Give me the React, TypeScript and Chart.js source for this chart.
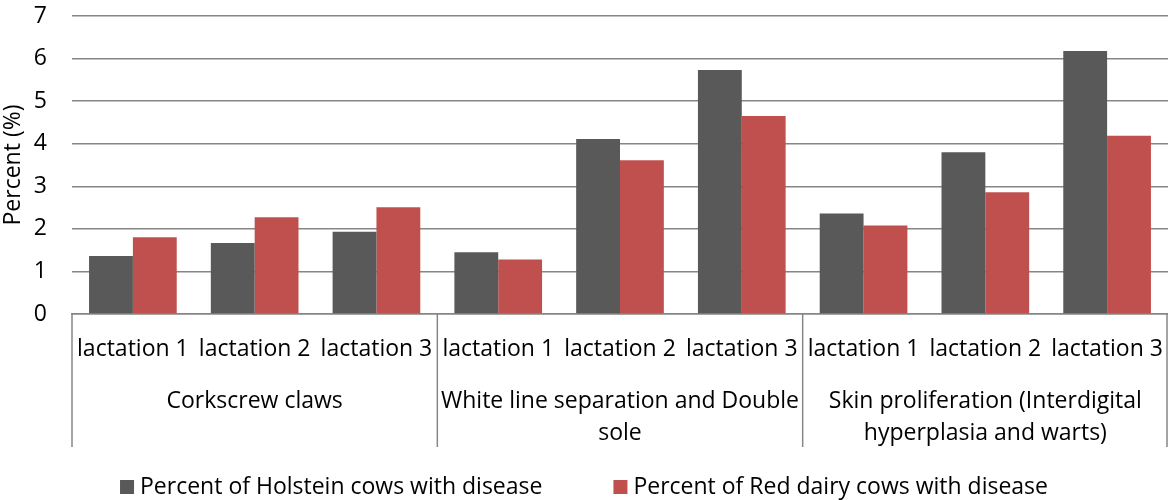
import React, { useEffect, useRef } from "react";
import { Chart, registerables } from "chart.js";

Chart.register(...registerables);

const categories = [
  "lactation 1", "lactation 2", "lactation 3",
  "lactation 1", "lactation 2", "lactation 3",
  "lactation 1", "lactation 2", "lactation 3",
];
const groups = [
  "Corkscrew claws",
  "White line separation and Double sole",
  "Skin proliferation (Interdigital hyperplasia and warts)",
];
const holstein = [1.36, 1.67, 1.93, 1.45, 4.11, 5.73, 2.36, 3.8, 6.18];
const redDairy = [1.8, 2.27, 2.51, 1.28, 3.61, 4.65, 2.08, 2.86, 4.19];
const seriesLabels = [
  "Percent of Holstein cows with disease",
  "Percent of Red dairy cows with disease",
];
const yTicks = [0, 1, 2, 3, 4, 5, 6, 7];

const FONT = "'Open Sans', sans-serif";
const FS = 23;
const GRID = "#868686";
const COLORS = ["#595959", "#C0504D"];

function wrap(ctx: CanvasRenderingContext2D, text: string, maxW: number): string[] {
  const words = text.split(" ");
  const lines: string[] = [];
  let cur = "";
  for (const w of words) {
    const t = cur ? cur + " " + w : w;
    if (ctx.measureText(t).width > maxW && cur) {
      lines.push(cur);
      cur = w;
    } else cur = t;
  }
  if (cur) lines.push(cur);
  return lines;
}

const axisPlugin = {
  id: "multiAxis",
  afterDraw(chart: any) {
    const ctx: CanvasRenderingContext2D = chart.ctx;
    const xs = chart.scales.x;
    const area = chart.chartArea;
    const bottom = area.bottom;
    const axisBottom = bottom + 133;
    ctx.save();
    ctx.font = `${FS}px ${FONT}`;
    ctx.fillStyle = "#000";
    ctx.textAlign = "center";
    ctx.textBaseline = "middle";
    categories.forEach((c, i) => {
      ctx.fillText(c, xs.getPixelForValue(i), bottom + 35);
    });
    const gw = (area.right - area.left) / groups.length;
    ctx.strokeStyle = GRID;
    ctx.lineWidth = 1.5;
    for (let g = 0; g <= groups.length; g++) {
      let x = area.left + g * gw;
      if (g === groups.length) x = Math.min(x, chart.width - 1);
      ctx.beginPath();
      ctx.moveTo(x, bottom);
      ctx.lineTo(x, axisBottom);
      ctx.stroke();
    }
    groups.forEach((g, gi) => {
      const cx = area.left + gi * gw + gw / 2;
      const lines = wrap(ctx, g, gw - 2);
      lines.forEach((ln, li) => {
        ctx.fillText(ln, cx, bottom + 87 + li * 32);
      });
    });
    // legend
    const box = 14;
    const gapBox = 6;
    const gapItem = 71;
    const widths = seriesLabels.map((s) => box + gapBox + ctx.measureText(s).width);
    const total = widths.reduce((a, b) => a + b, 0) + gapItem * (seriesLabels.length - 1);
    let x = (chart.width - total) / 2;
    const ly = 487;
    ctx.textAlign = "left";
    seriesLabels.forEach((s, i) => {
      ctx.fillStyle = COLORS[i];
      ctx.fillRect(x, ly - box / 2, box, box);
      ctx.fillStyle = "#000";
      ctx.fillText(s, x + box + gapBox, ly);
      x += widths[i] + gapItem;
    });
    ctx.restore();
  },
};

export default function App() {
  const ref = useRef<HTMLCanvasElement | null>(null);
  useEffect(() => {
    document.body.style.margin = "0";
    const canvas = ref.current!;
    const chart = new Chart(canvas, {
      type: "bar",
      data: {
        labels: categories,
        datasets: [
          {
            label: seriesLabels[0],
            data: holstein,
            backgroundColor: COLORS[0],
            categoryPercentage: 0.72,
            barPercentage: 1,
          },
          {
            label: seriesLabels[1],
            data: redDairy,
            backgroundColor: COLORS[1],
            categoryPercentage: 0.72,
            barPercentage: 1,
          },
        ],
      },
      options: {
        responsive: false,
        animation: false,
        devicePixelRatio: 1,
        layout: { padding: { top: 16, right: 0, bottom: 53, left: 0 } },
        plugins: {
          legend: { display: false },
          tooltip: { enabled: false },
        },
        scales: {
          x: {
            grid: { display: false },
            border: { display: true, color: GRID, width: 1.5 },
            ticks: { display: false },
            afterFit(scale: any) {
              scale.height = 133;
            },
          },
          y: {
            min: 0,
            max: 7,
            afterBuildTicks(scale: any) {
              scale.ticks = yTicks.map((v) => ({ value: v }));
            },
            grid: { color: GRID, lineWidth: 1.5, drawTicks: false },
            border: { display: false },
            ticks: {
              padding: 25,
              color: "#000",
              font: { family: FONT, size: FS },
            },
            title: {
              display: true,
              text: "Percent (%)",
              color: "#000",
              font: { family: FONT, size: FS },
              padding: { top: 0, bottom: 0 },
            },
            afterFit(scale: any) {
              scale.width = 72;
              scale.paddingTop = 0;
              scale.paddingBottom = 0;
            },
          },
        },
      },
      plugins: [axisPlugin],
    });
    return () => chart.destroy();
  }, []);
  return (
    <div style={{ width: 1168, height: 500 }}>
      <canvas ref={ref} width={1168} height={500} style={{ display: "block" }} />
    </div>
  );
}
